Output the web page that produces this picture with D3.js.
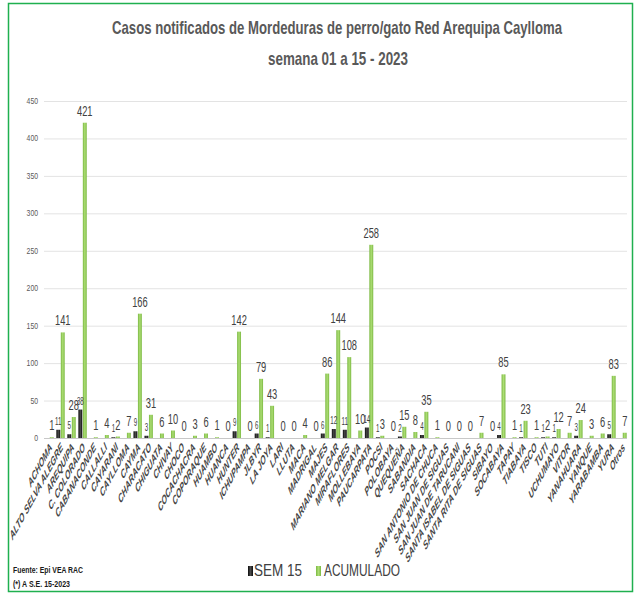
<!DOCTYPE html>
<html>
<head>
<meta charset="utf-8">
<script src="https://cdn.jsdelivr.net/npm/d3@7.9.0/dist/d3.min.js"></script>
<style>
  body { margin: 0; background: #fff; }
  svg { display: block; font-family: "Liberation Sans", Arial, sans-serif; }
</style>
</head>
<body>
<svg id="chart" width="637" height="594"></svg>
<script>
// Districts (x axis)
const categories = [
  'ACHOMA', 'ALTO SELVA ALEGRE', 'AREQUIPA', 'C. COLORADO', 'CABANACONDE',
  'CALLALLI', 'CAYARANI', 'CAYLLOMA', 'CAYMA', 'CHARACATO', 'CHIGUATA',
  'CHIVAY', 'CHOCO', 'COCACHACRA', 'COPORAQUE', 'HUAMBO', 'HUANCA', 'HUNTER',
  'ICHUPAMPA', 'JLBYR', 'LA JOYA', 'LARI', 'LLUTA', 'MACA', 'MADRIGAL',
  'MAJES', 'MARIANO MELGAR', 'MIRAFLORES', 'MOLLEBAYA', 'PAUCARPATA', 'POCSI',
  'POLOBAYA', 'QUEQUEÑA', 'SABANDIA', 'SACHACA', 'SAN ANTONIO DE CHUCA',
  'SAN JUAN DE SIGUAS', 'SAN JUAN DE TARUCANI', 'SANTA ISABEL DE SIGUAS',
  'SANTA RITA DE SIGUAS', 'SIBAYO', 'SOCABAYA', 'TAPAY', 'TIABAYA', 'TISCO',
  'TUTI', 'UCHUMAYO', 'VITOR', 'YANAHUARA', 'YANQUE', 'YARABAMBA', 'YURA', 'Otros'
];

// Cases in week 15
const sem15 = [
  0, 11, 5, 38, 0, 0, 1, 0, 9, 3, 0, 0, 0, 0, 0, 0, 0, 9, 0, 6, 1, 0, 0, 0, 0,
  6, 12, 11, 0, 14, 1, 0, 2, 0, 4, 0, 0, 0, 0, 0, 0, 4, 0, 1, 0, 1, 1, 0, 3, 0,
  0, 5, 0
];

// Cumulative cases weeks 01-15
const acumulado = [
  1, 141, 28, 421, 1, 4, 2, 7, 166, 31, 6, 10, 0, 3, 6, 1, 0, 142, 0, 79, 43, 0,
  0, 4, 0, 86, 144, 108, 10, 258, 3, 0, 15, 8, 35, 1, 0, 0, 0, 7, 0, 85, 1, 23,
  1, 2, 12, 7, 24, 3, 6, 83, 7
];

const yTicks = [0, 50, 100, 150, 200, 250, 300, 350, 400, 450];
const seriesNames = ['SEM 15', 'ACUMULADO'];

const svg = d3.select('#chart');

// Bar shading (Excel-style bevel)
const defs = svg.append('defs');
function addGradient(id, edge, mid) {
  const g = defs.append('linearGradient').attr('id', id)
    .attr('x1', 0).attr('x2', 1).attr('y1', 0).attr('y2', 0);
  g.append('stop').attr('offset', '0%').attr('stop-color', edge);
  g.append('stop').attr('offset', '50%').attr('stop-color', mid);
  g.append('stop').attr('offset', '100%').attr('stop-color', edge);
}
addGradient('gBlack', '#0d0d0d', '#4a4a4a');
addGradient('gGreen', '#7cb943', '#acdd74');

// Outer frame
svg.append('rect')
  .attr('x', 8.5).attr('y', 3.5).attr('width', 624).attr('height', 588)
  .attr('fill', '#fff').attr('stroke', '#1fb04f').attr('stroke-width', 1.5);

// Scales
const x = d3.scaleBand().domain(categories).range([44, 628])
  .paddingInner(0.24).paddingOuter(0.12);
const xInner = d3.scaleBand().domain(seriesNames).range([0, x.bandwidth()])
  .paddingInner(0.12);
const y = d3.scaleLinear().domain([0, 450]).range([438, 101]);

// Helper for the squeezed (narrow) look of the source text
function narrowText(g, px, py, txt, size, sx, opts = {}) {
  return g.append('text')
    .attr('transform', `translate(${px},${py}) scale(${sx},1)`)
    .attr('text-anchor', opts.anchor || 'middle')
    .attr('font-size', size)
    .attr('font-weight', opts.weight || 'normal')
    .attr('fill', opts.fill || '#404040')
    .text(txt);
}

// Title
svg.append('text')
  .attr('x', 337).attr('y', 34).attr('text-anchor', 'middle')
  .attr('font-size', 19).attr('font-weight', 'bold').attr('fill', '#595959')
  .attr('textLength', 450).attr('lengthAdjust', 'spacingAndGlyphs')
  .text('Casos notificados de Mordeduras de perro/gato Red Arequipa Caylloma');
svg.append('text')
  .attr('x', 338).attr('y', 65).attr('text-anchor', 'middle')
  .attr('font-size', 19).attr('font-weight', 'bold').attr('fill', '#595959')
  .attr('textLength', 140).attr('lengthAdjust', 'spacingAndGlyphs')
  .text('semana 01 a 15 - 2023');

// Gridlines + y tick labels
const yAxis = d3.axisLeft(y).tickValues(yTicks).tickSize(-(627 - 44)).tickFormat('');
const yG = svg.append('g').attr('transform', 'translate(44,0)').call(yAxis);
yG.select('.domain').remove();
yG.selectAll('.tick line').attr('stroke', '#e3e3e3').attr('stroke-width', 1)
  .filter((d) => d === 0).attr('stroke', '#c8c8c8');
yTicks.forEach((t) => {
  narrowText(svg, 38, y(t) + 3, String(t), 9.5, 0.72, { anchor: 'end', fill: '#595959' });
});

// Bars
const barsG = svg.append('g');
categories.forEach((c, i) => {
  const bx = x(c);
  [sem15[i], acumulado[i]].forEach((v, k) => {
    const s = seriesNames[k];
    if (v <= 0) return;
    barsG.append('rect')
      .attr('x', bx + xInner(s))
      .attr('y', y(v))
      .attr('width', xInner.bandwidth())
      .attr('height', y(0) - y(v))
      .attr('fill', k === 0 ? 'url(#gBlack)' : 'url(#gGreen)');
  });
});

// Value labels
const labG = svg.append('g');
categories.forEach((c, i) => {
  const bx = x(c);
  if (sem15[i] > 0) {
    const cx = bx + xInner('SEM 15') + xInner.bandwidth() / 2;
    narrowText(labG, cx, y(sem15[i]) - 5, String(sem15[i]), 10, 0.62);
  }
  const cx2 = bx + xInner('ACUMULADO') + xInner.bandwidth() / 2;
  narrowText(labG, cx2, y(acumulado[i]) - 7, String(acumulado[i]), 15.5, 0.6);
});

// X axis labels: 45deg labels in a horizontally squeezed frame
const xAxis = d3.axisBottom(x).tickSize(0).tickPadding(0);
const xG = svg.append('g').attr('transform', 'translate(0,438)').call(xAxis);
xG.select('.domain').remove();
xG.selectAll('.tick text')
  .attr('font-family', '"Liberation Sans", Arial, sans-serif')
  .attr('font-size', 12.5).attr('font-weight', 'bold').attr('font-style', 'italic')
  .attr('fill', '#454545').attr('text-anchor', 'end')
  .attr('dy', 0).attr('y', 0)
  .attr('transform', 'translate(3,10) scale(0.55,1) rotate(-45)');

// Legend
const legend = svg.append('g');
legend.append('rect').attr('x', 248).attr('y', 566).attr('width', 5).attr('height', 10)
  .attr('fill', 'url(#gBlack)');
legend.append('text').attr('x', 254).attr('y', 576).attr('font-size', 17)
  .attr('fill', '#404040').attr('textLength', 48).attr('lengthAdjust', 'spacingAndGlyphs')
  .text('SEM 15');
legend.append('rect').attr('x', 316).attr('y', 566).attr('width', 5).attr('height', 10)
  .attr('fill', 'url(#gGreen)');
legend.append('text').attr('x', 324).attr('y', 576).attr('font-size', 17)
  .attr('fill', '#404040').attr('textLength', 76).attr('lengthAdjust', 'spacingAndGlyphs')
  .text('ACUMULADO');

// Source notes
svg.append('text').attr('x', 13).attr('y', 573).attr('font-size', 9)
  .attr('font-weight', 'bold').attr('fill', '#1a1a1a')
  .attr('textLength', 70).attr('lengthAdjust', 'spacingAndGlyphs')
  .text('Fuente: Epi VEA RAC');
svg.append('text').attr('x', 13).attr('y', 587).attr('font-size', 9)
  .attr('font-weight', 'bold').attr('fill', '#1a1a1a')
  .attr('textLength', 57).attr('lengthAdjust', 'spacingAndGlyphs')
  .text('(*) A S.E. 15-2023');
</script>
</body>
</html>
